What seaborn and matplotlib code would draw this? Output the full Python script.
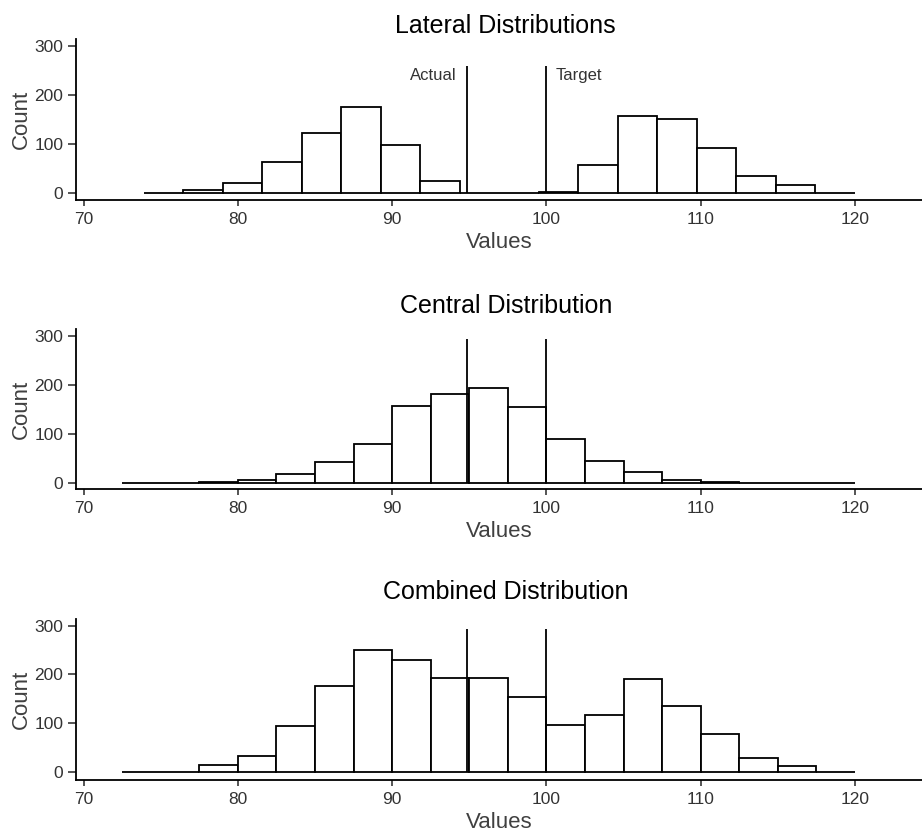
import numpy as np
import pandas as pd
import seaborn as sns
import matplotlib
matplotlib.use('Agg')
import matplotlib.pyplot as plt

# bin edges and counts
lateral_edges = [73.9, 76.46, 79.02, 81.58, 84.14, 86.7, 89.26, 91.82, 94.38, 96.94,
                 99.5, 102.06, 104.62, 107.18, 109.74, 112.3, 114.86, 117.42, 119.98]
lateral_counts = [0, 5, 20, 63, 121, 175, 97, 23, 0, 0, 2, 56, 156, 151, 91, 34, 15, 0]

central_edges = [72.5, 75, 77.5, 80, 82.5, 85, 87.5, 90, 92.5, 95, 97.5, 100,
                 102.5, 105, 107.5, 110, 112.5, 115, 117.5, 120]
central_counts = [0, 0, 2, 5, 17, 43, 79, 156, 182, 194, 155, 90, 44, 22, 5, 2, 0, 0, 0]

combined_edges = central_edges
combined_counts = [0, 0, 14, 33, 94, 176, 250, 229, 192, 193, 154, 96, 116, 190, 135, 78, 28, 12, 0]

titles = ['Lateral Distributions', 'Central Distribution', 'Combined Distribution']
actual = 94.85
target = 100
line_tops = [258, 293, 293]
x_ticks = [70, 80, 90, 100, 110, 120]
y_ticks = [0, 100, 200, 300]

sns.set_style('white')
plt.rcParams['font.family'] = ['Liberation Sans', 'DejaVu Sans']

fig = plt.figure(figsize=(9.22, 8.34), dpi=100)
W, H = 922, 834

# axes boxes in pixels: (top, bottom)
boxes = [(39, 200), (329, 489), (619, 780)]
ylims = [(-15, 314), (-13, 314), (-17, 314)]
title_y = [1.037, 1.101, 1.124]

data = [(lateral_edges, lateral_counts),
        (central_edges, central_counts),
        (combined_edges, combined_counts)]

for i, (edges, counts) in enumerate(data):
    top, bot = boxes[i]
    ax = fig.add_axes([76 / W, 1 - bot / H, (W - 76) / W, (bot - top) / H])
    e = np.array(edges)
    df = pd.DataFrame({'val': (e[:-1] + e[1:]) / 2, 'n': counts})
    sns.histplot(data=df, x='val', weights='n', bins=edges, ax=ax,
                 color='white', edgecolor='black', linewidth=1.3, alpha=1)
    ax.vlines([actual, target], 0, line_tops[i], color='black', linewidth=1.3)
    if i == 0:
        ax.text(actual - 0.7, 240, 'Actual', ha='right', va='center',
                fontsize=12, color='#333333')
        ax.text(target + 0.6, 240, 'Target', ha='left', va='center',
                fontsize=12, color='#333333')

    ax.set_xlim(69.51, 124.34)
    ax.set_ylim(*ylims[i])
    ax.set_xticks(x_ticks)
    ax.set_yticks(y_ticks)
    ax.tick_params(axis='x', direction='out', length=4.3, width=1.1, pad=4,
                   labelsize=12.5, labelcolor='#333333', bottom=True)
    ax.tick_params(axis='y', direction='out', length=5.8, width=1.1, pad=3.4,
                   labelsize=12.5, labelcolor='#333333', left=True)
    sns.despine(ax=ax)
    for s in ['left', 'bottom']:
        ax.spines[s].set_linewidth(1.3)
        ax.spines[s].set_color('black')

    ax.set_xlabel('Values', fontsize=16, color='#404040')
    ax.set_ylabel('Count', fontsize=16, color='#404040')
    ax.xaxis.set_label_coords(0.5, -0.2)
    ax.yaxis.set_label_coords(-0.052, 0.5)
    ax.set_title(titles[i], fontsize=18, color='black', x=0.508, y=title_y[i], pad=0)

plt.savefig('out.png', dpi=100)
